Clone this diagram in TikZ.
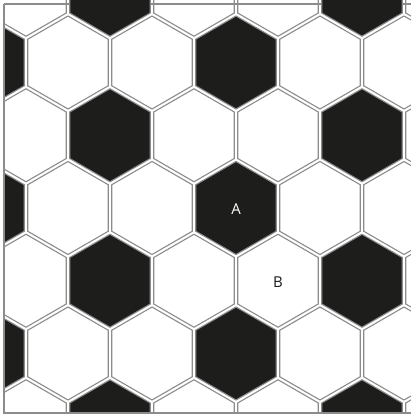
\documentclass[tikz,border=0pt]{standalone}
\usepackage{fontspec}
\setmainfont{Open Sans}
\usepackage{xcolor}
\definecolor{negroBalon}{RGB}{29,29,27}
\definecolor{grisBorde}{RGB}{140,140,140}
\usepackage{tikz}
\usetikzlibrary{calc}

\begin{document}
\begin{tikzpicture}[
  x=1pt, y=-1pt,
  celda/.style={draw=grisBorde, line width=1.1pt},
  negro/.style={celda, fill=negroBalon},
  blanco/.style={celda},
  marco/.style={draw=grisBorde, line width=1.1pt},
  letra/.style={font=\fontsize{15}{17}\selectfont, inner sep=0pt}
]
\fill[white] (0,0) rectangle (411,415);
\useasboundingbox (0,0) rectangle (411,415);

% Borde superior (queda debajo de las celdas negras)
\draw[marco] (4,4) -- (415,4);

% Panal de hexagonos
\begin{scope}
  \clip (4,-5) rectangle (420,413);
  \foreach \r in {-3,...,3} {
    \foreach \k in {-3,...,2} {
      \pgfmathsetmacro{\cx}{236 + 84*\k + 42*Mod(\r,2)}
      \pgfmathsetmacro{\cy}{208 + 72.75*\r}
      \pgfmathtruncatemacro{\tono}{Mod(\k - Mod(\r,2), 3)}
      \ifnum\tono=0 \def\estilo{negro}\else \def\estilo{blanco}\fi
      \draw[\estilo] (\cx,\cy) +(90:46.5) -- +(30:46.5) -- +(-30:46.5)
        -- +(-90:46.5) -- +(-150:46.5) -- +(150:46.5) -- cycle;
    }
  }
\end{scope}

% Marco
\draw[marco] (4,4) -- (4,413) -- (415,413);

% Etiquetas
\node[letra, text=white] (hexA) at (236,209) {A};
\node[letra, text=negroBalon] (hexB) at (278,282) {B};

\end{tikzpicture}
\end{document}
